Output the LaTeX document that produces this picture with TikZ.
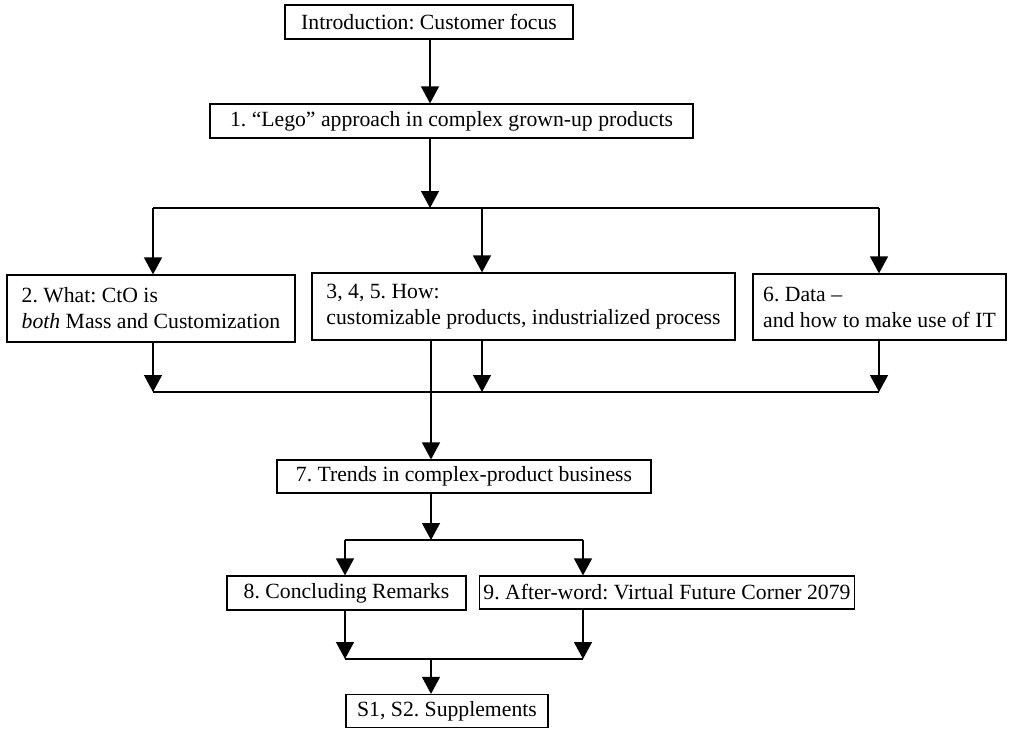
\documentclass[tikz,border=0pt]{standalone}
\usepackage{fontspec}
\setmainfont{Liberation Serif}
\usetikzlibrary{arrows.meta}
\frenchspacing

\begin{document}
\begin{tikzpicture}[x=1pt,y=-1pt,
  line width=1.3pt,
  every node/.style={font=\fontsize{21.7}{26}\selectfont},
  box/.style={draw, line width=1.2pt, rectangle, inner xsep=4pt, inner ysep=0pt,
    minimum height=#1, align=center, anchor=center},
  box/.default=34pt,
  lbox/.style={draw, line width=1.2pt, rectangle, inner xsep=4pt, inner ysep=0pt,
    minimum height=67pt, align=left, anchor=center},
  arr/.style={-{Triangle[width=18pt,length=17pt]}}
]
\useasboundingbox (0,0) rectangle (1012,729);

% chapter boxes
\node[box, minimum width=288pt] (intro) at (429,22) {Introduction: Customer focus};
\node[box, minimum width=483pt] (b1) at (451.5,121) {1. “Lego” approach in complex grown-up products};
\node[lbox, minimum width=288pt] (b2) at (151,308.5) {2. What: CtO is\\\textit{both} Mass and Customization};
\node[lbox, minimum width=423pt] (b3) at (523.5,306.5) {3, 4, 5. How:\\customizable products, industrialized process};
\node[lbox, minimum width=253pt, minimum height=66pt] (b6) at (879.5,307) {6. Data –\\and how to make use of IT};
\node[box=33pt, minimum width=374pt] (b7) at (464,476.5) {7. Trends in complex-product business};
\node[box, minimum width=239pt] (b8) at (346.5,593) {8. Concluding Remarks};
\node[box=33pt, minimum width=372pt] (b9) at (667,592.5) {9. After-word: Virtual Future Corner 2079};
\node[box=33pt, minimum width=202pt] (s) at (447,711) {S1, S2. Supplements};

% junction points
\coordinate (j1) at (430,208);
\coordinate (j1l) at (153,208);
\coordinate (j1m) at (482,208);
\coordinate (j1r) at (879,208);
\coordinate (k1l) at (153,392);
\coordinate (k1m) at (482,392);
\coordinate (k1r) at (879,392);
\coordinate (k1c) at (431,392);
\coordinate (m1) at (431,540);
\coordinate (m1l) at (345,540);
\coordinate (m1r) at (583,540);
\coordinate (n1) at (431,659);
\coordinate (n1l) at (345,659);
\coordinate (n1r) at (583,659);

% introduction to chapter 1
\draw[arr] (intro.south -| j1) -- (b1.north -| j1);

% split into chapters 2, 3-5 and 6
\draw[arr] (b1.south -| j1) -- (j1);
\draw (j1l) -- (j1r);
\draw[arr] (j1l) -- (b2.north -| j1l);
\draw[arr] (j1m) -- (b3.north -| j1m);
\draw[arr] (j1r) -- (b6.north -| j1r);

% merge back
\draw[arr] (b2.south -| k1l) -- (k1l);
\draw[arr] (b3.south -| k1m) -- (k1m);
\draw[arr] (b6.south -| k1r) -- (k1r);
\draw (k1l) -- (k1r);
\draw[arr] (b3.south -| k1c) -- (b7.north -| k1c);

% chapter 7 to chapters 8 and 9
\draw[arr] (b7.south -| m1) -- (m1);
\draw (m1l) -- (m1r);
\draw[arr] (m1l) -- (b8.north -| m1l);
\draw[arr] (m1r) -- (b9.north -| m1r);

% on to the supplements
\draw[arr] (b8.south -| n1l) -- (n1l);
\draw[arr] (b9.south -| n1r) -- (n1r);
\draw (n1l) -- (n1r);
\draw[arr] (n1) -- (s.north -| n1);
\end{tikzpicture}
\end{document}
